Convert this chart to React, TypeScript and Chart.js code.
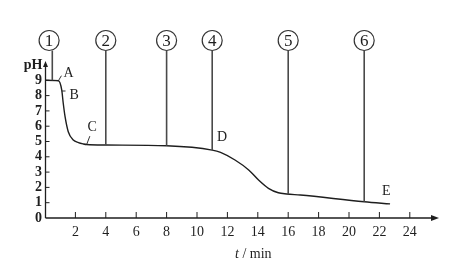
import React, { useEffect, useRef } from "react";
import { Chart, registerables } from "chart.js";

Chart.register(...registerables);

// curve data (time in min, pH)
const times = [0, 0.88, 1.1, 1.2, 1.32, 1.53, 1.86, 2.2, 2.52, 2.74, 4, 8, 11, 11.55, 12.5, 13.4, 14.05, 14.7, 15.35, 15.9, 16.8, 21, 22.7];
const phValues = [9, 8.97, 8.37, 7.5, 6.62, 5.64, 5.1, 4.93, 4.84, 4.8, 4.77, 4.72, 4.44, 4.29, 3.79, 3.14, 2.48, 1.94, 1.65, 1.57, 1.5, 1.06, 0.92];

// sampling markers
const markerLabels = ["1", "2", "3", "4", "5", "6"];
const markerLineTimes = [0.48, 4, 8, 11, 16, 21];
const markerCircleTimes = [0.27, 4, 8, 11, 16, 21];
const markerPH = [9, 4.77, 4.72, 4.44, 1.57, 1.06];
const markerCircleTopPH = 11.6;

// point letters
const pointLabels = ["A", "B", "C", "D", "E"];
const pointLabelTimes = [1.55, 1.92, 3.1, 11.65, 22.45];
const pointLabelPH = [9.45, 8.0, 5.95, 5.3, 1.75];
const leaderFrom = [[0.88, 8.97], [1.12, 8.3], [2.74, 4.8], [11, 4.44], [22.7, 0.92]];
const leaderTo = [[1.08, 9.3], [1.35, 8.3], [2.95, 5.35], [11, 4.44], [22.7, 0.92]];

// tick labels
const xTickValues = [2, 4, 6, 8, 10, 12, 14, 16, 18, 20, 22, 24];
const yTickValues = [0, 1, 2, 3, 4, 5, 6, 7, 8, 9];

const FONT = "'Liberation Serif', 'DejaVu Serif', serif";
const INK = "#1e1e1e";

const decorPlugin = {
  id: "decor",
  afterDraw(chart: any) {
    const ctx = chart.ctx;
    const xs = chart.scales.x;
    const ys = chart.scales.y;
    const x0 = xs.getPixelForValue(0) + 0.5;
    const y0 = ys.getPixelForValue(0);
    ctx.save();
    ctx.strokeStyle = INK;
    ctx.fillStyle = INK;
    ctx.lineWidth = 1.3;

    // x axis with arrow
    const xEnd = 439;
    ctx.beginPath();
    ctx.moveTo(x0, y0);
    ctx.lineTo(xEnd - 4, y0);
    ctx.stroke();
    ctx.beginPath();
    ctx.moveTo(xEnd, y0);
    ctx.lineTo(xEnd - 8, y0 - 3);
    ctx.lineTo(xEnd - 8, y0 + 3);
    ctx.closePath();
    ctx.fill();

    // y axis with arrow
    const yEnd = 61;
    ctx.beginPath();
    ctx.moveTo(x0, y0);
    ctx.lineTo(x0, yEnd + 4);
    ctx.stroke();
    ctx.beginPath();
    ctx.moveTo(x0, yEnd);
    ctx.lineTo(x0 - 2.5, yEnd + 6);
    ctx.lineTo(x0 + 2.5, yEnd + 6);
    ctx.closePath();
    ctx.fill();

    // inward ticks
    ctx.lineWidth = 1;
    xTickValues.forEach((v) => {
      const px = xs.getPixelForValue(v);
      ctx.beginPath();
      ctx.moveTo(px, y0);
      ctx.lineTo(px, y0 - 6);
      ctx.stroke();
    });
    yTickValues.forEach((v) => {
      if (v === 0) return;
      const py = ys.getPixelForValue(v);
      ctx.beginPath();
      ctx.moveTo(x0, py);
      ctx.lineTo(x0 + 4, py);
      ctx.stroke();
    });

    // pH label
    ctx.font = `bold 14px ${FONT}`;
    ctx.textAlign = "right";
    ctx.textBaseline = "middle";
    ctx.fillText("pH", x0 - 3, 65);

    // t / min label
    ctx.textAlign = "left";
    ctx.textBaseline = "alphabetic";
    ctx.font = `italic 14px ${FONT}`;
    const startX = 235;
    ctx.fillText("t", startX, 258);
    const tw = ctx.measureText("t").width;
    ctx.font = `14px ${FONT}`;
    ctx.fillText(" / min", startX + tw, 258);

    // markers: circles + vertical lines
    const cy = ys.getPixelForValue(markerCircleTopPH);
    const r = 10;
    markerLabels.forEach((lab, i) => {
      const cx = xs.getPixelForValue(markerCircleTimes[i]);
      const lx = xs.getPixelForValue(markerLineTimes[i]);
      ctx.strokeStyle = "#333";
      ctx.lineWidth = 1.2;
      ctx.beginPath();
      ctx.arc(cx, cy, r, 0, Math.PI * 2);
      ctx.stroke();
      ctx.lineWidth = 1.6;
      ctx.strokeStyle = "#4a4a4a";
      ctx.beginPath();
      ctx.moveTo(lx, cy + r);
      ctx.lineTo(lx, ys.getPixelForValue(markerPH[i]));
      ctx.stroke();
      ctx.fillStyle = INK;
      ctx.font = `17px ${FONT}`;
      ctx.textAlign = "center";
      ctx.textBaseline = "middle";
      ctx.fillText(lab, cx, cy + 1);
    });

    // point letters with leaders
    ctx.strokeStyle = INK;
    ctx.lineWidth = 0.9;
    pointLabels.forEach((lab, i) => {
      const fx = xs.getPixelForValue(leaderFrom[i][0]);
      const fy = ys.getPixelForValue(leaderFrom[i][1]);
      const tx = xs.getPixelForValue(leaderTo[i][0]);
      const ty = ys.getPixelForValue(leaderTo[i][1]);
      if (fx !== tx || fy !== ty) {
        ctx.beginPath();
        ctx.moveTo(fx, fy);
        ctx.lineTo(tx, ty);
        ctx.stroke();
      }
      ctx.font = `14px ${FONT}`;
      ctx.textAlign = "center";
      ctx.textBaseline = "middle";
      ctx.fillText(lab, xs.getPixelForValue(pointLabelTimes[i]), ys.getPixelForValue(pointLabelPH[i]));
    });

    ctx.restore();
  },
};

export default function App() {
  const ref = useRef<HTMLCanvasElement | null>(null);
  useEffect(() => {
    if (!ref.current) return;
    const chart = new Chart(ref.current, {
      type: "line",
      data: {
        datasets: [
          {
            data: times.map((t, i) => ({ x: t, y: phValues[i] })),
            borderColor: INK,
            borderWidth: 1.4,
            pointRadius: 0,
            fill: false,
            cubicInterpolationMode: "monotone",
          },
        ],
      },
      options: {
        animation: false,
        responsive: false,
        events: [],
        layout: { padding: { top: 26.75, right: 9.8, left: 0, bottom: 0 } },
        plugins: { legend: { display: false }, tooltip: { enabled: false } },
        scales: {
          x: {
            type: "linear",
            min: 0,
            max: 26,
            afterFit: (s: any) => {
              s.height = 51;
            },
            afterBuildTicks: (s: any) => {
              s.ticks = xTickValues.map((v) => ({ value: v }));
            },
            ticks: {
              padding: 6,
              maxRotation: 0,
              autoSkip: false,
              color: INK,
              font: { family: FONT, size: 14 },
            },
            grid: { display: false, drawTicks: false, tickLength: 0 },
            border: { display: false },
          },
          y: {
            min: 0,
            max: 12.5,
            afterFit: (s: any) => {
              s.width = 45;
            },
            afterBuildTicks: (s: any) => {
              s.ticks = yTickValues.map((v) => ({ value: v }));
            },
            ticks: {
              padding: 3,
              autoSkip: false,
              color: INK,
              font: { family: FONT, size: 14, weight: "bold" },
            },
            grid: { display: false, drawTicks: false, tickLength: 0 },
            border: { display: false },
          },
        },
      },
      plugins: [decorPlugin],
    });
    return () => chart.destroy();
  }, []);
  return (
    <div style={{ position: "fixed", left: 0, top: 0, width: 450, height: 269, background: "#fff" }}>
      <canvas ref={ref} width={450} height={269} style={{ display: "block" }} />
    </div>
  );
}
